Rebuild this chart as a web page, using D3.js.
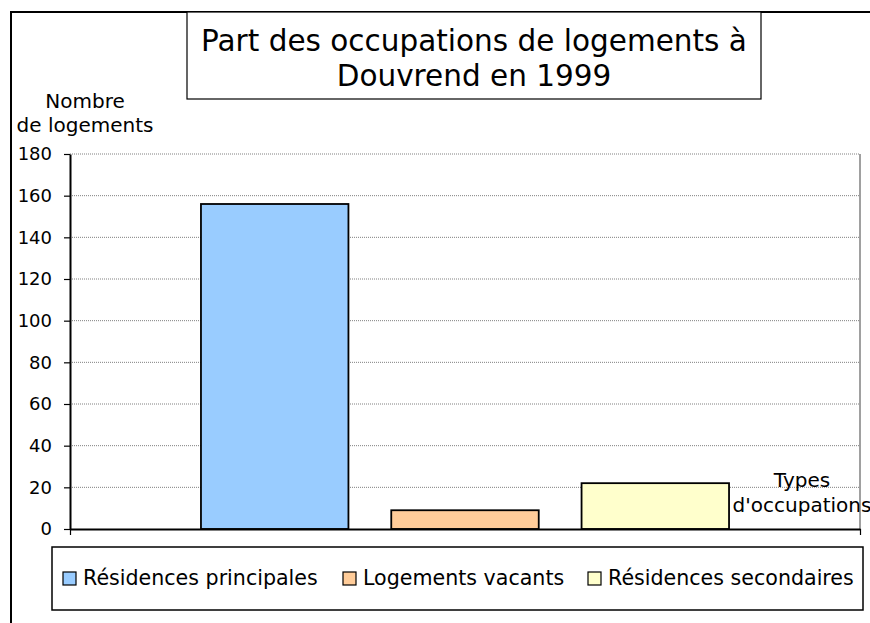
<!DOCTYPE html>
<html>
<head>
<meta charset="utf-8">
<script src="https://cdn.jsdelivr.net/npm/d3@7"></script>
<style>
    body { margin: 0; background: #fff; }
    svg { display: block; font-family: "DejaVu Sans", Verdana, sans-serif; }
</style>
</head>
<body>
<svg id="chart" width="870" height="623"></svg>
<script>
"use strict";

// Chart data
const titleLines = ["Part des occupations de logements à", "Douvrend en 1999"];
const categories = ["1999"];
const series = ["Résidences principales", "Logements vacants", "Résidences secondaires"];
const values = [156, 9, 22];
const colors = ["#99ccff", "#ffcc99", "#ffffcc"];
const yTicks = [0, 20, 40, 60, 80, 100, 120, 140, 160, 180];
const yLabel = ["Nombre", "de logements"];
const xLabel = ["Types", "d'occupations"];

(function () {
    window.addEventListener("load", init);

    function init() {
        const svg = d3.select("#chart");

        const plot = { left: 70, right: 860, top: 154, bottom: 529 };

        const x0 = d3.scaleBand()
            .domain(categories)
            .range([plot.left, plot.right])
            .paddingInner(0)
            .paddingOuter(0.248);

        const x1 = d3.scaleBand()
            .domain(series)
            .range([0, x0.bandwidth()])
            .paddingInner(0.225);

        const y = d3.scaleLinear()
            .domain([0, 180])
            .range([plot.bottom, plot.top]);

        // Outer chart border (cut off on the right and bottom)
        svg.append("rect")
            .attr("x", 11).attr("y", 12)
            .attr("width", 900).attr("height", 700)
            .attr("fill", "none")
            .attr("stroke", "#000")
            .attr("stroke-width", 2);

        drawTitle(svg);
        drawGrid(svg, y, plot);
        drawBars(svg, x0, x1, y);
        drawAxes(svg, y, plot);
        drawLabels(svg);
        drawLegend(svg);
    }

    function drawTitle(svg) {
        svg.append("rect")
            .attr("x", 187).attr("y", 12)
            .attr("width", 574).attr("height", 87)
            .attr("fill", "#fff")
            .attr("stroke", "#000")
            .attr("stroke-width", 1.2);

        svg.append("text")
            .attr("text-anchor", "middle")
            .style("font-size", "29.5px")
            .selectAll("tspan")
            .data(titleLines)
            .enter()
            .append("tspan")
            .attr("x", 474)
            .attr("y", (d, i) => 51 + i * 35)
            .text(d => d);
    }

    function drawGrid(svg, y, plot) {
        svg.append("g")
            .selectAll("line")
            .data(yTicks.filter(d => d > 0))
            .enter()
            .append("line")
            .attr("x1", plot.left)
            .attr("x2", plot.right)
            .attr("y1", d => y(d))
            .attr("y2", d => y(d))
            .attr("stroke", "#808080")
            .attr("stroke-width", 1)
            .attr("stroke-dasharray", "1,1");

        // right border of plot area
        svg.append("line")
            .attr("x1", plot.right).attr("x2", plot.right)
            .attr("y1", plot.top).attr("y2", plot.bottom)
            .attr("stroke", "#808080")
            .attr("stroke-width", 1.5);
    }

    function drawBars(svg, x0, x1, y) {
        const group = svg.append("g")
            .attr("transform", `translate(${x0(categories[0])},0)`);

        group.selectAll("rect")
            .data(series.map((s, i) => ({ name: s, value: values[i], color: colors[i] })))
            .enter()
            .append("rect")
            .attr("x", d => x1(d.name))
            .attr("y", d => y(d.value))
            .attr("width", x1.bandwidth())
            .attr("height", d => y(0) - y(d.value))
            .attr("fill", d => d.color)
            .attr("stroke", "#000")
            .attr("stroke-width", 1.8);
    }

    function drawAxes(svg, y, plot) {
        const yAxis = svg.append("g")
            .attr("transform", `translate(${plot.left},0)`)
            .call(d3.axisLeft(y).tickValues(yTicks).tickSize(6).tickPadding(12).tickSizeOuter(0));

        yAxis.selectAll("text")
            .style("font-size", "18px")
            .style("font-family", "DejaVu Sans, Verdana, sans-serif")
            .attr("fill", "#000");
        yAxis.selectAll("line").attr("stroke", "#000").attr("stroke-width", 1.2);
        yAxis.select(".domain").attr("stroke", "#000").attr("stroke-width", 2);

        // category boundary ticks
        const edge = d3.scaleLinear().domain([0, 1]).range([plot.left, plot.right]);
        const xAxis = svg.append("g")
            .attr("transform", `translate(0,${plot.bottom})`)
            .call(d3.axisBottom(edge).tickValues([0, 1]).tickFormat("").tickSize(6).tickSizeOuter(0));

        xAxis.selectAll("line").attr("stroke", "#000").attr("stroke-width", 1.2);
        xAxis.select(".domain").attr("stroke", "#000").attr("stroke-width", 2);
    }

    function drawLabels(svg) {
        svg.append("text")
            .attr("text-anchor", "middle")
            .style("font-size", "20px")
            .selectAll("tspan")
            .data(yLabel)
            .enter()
            .append("tspan")
            .attr("x", 85)
            .attr("y", (d, i) => 108 + i * 24)
            .text(d => d);

        svg.append("text")
            .attr("text-anchor", "middle")
            .style("font-size", "20px")
            .selectAll("tspan")
            .data(xLabel)
            .enter()
            .append("tspan")
            .attr("x", 802)
            .attr("y", (d, i) => 487 + i * 25)
            .text(d => d);
    }

    function drawLegend(svg) {
        svg.append("rect")
            .attr("x", 52).attr("y", 547)
            .attr("width", 811).attr("height", 63)
            .attr("fill", "#fff")
            .attr("stroke", "#000")
            .attr("stroke-width", 1.5);

        const itemX = [63, 343, 588];

        const items = svg.append("g")
            .selectAll("g")
            .data(series)
            .enter()
            .append("g")
            .attr("transform", (d, i) => `translate(${itemX[i]},572)`);

        items.append("rect")
            .attr("width", 13)
            .attr("height", 13)
            .attr("fill", (d, i) => colors[i])
            .attr("stroke", "#000")
            .attr("stroke-width", 1.2);

        items.append("text")
            .attr("x", 20)
            .attr("y", 13)
            .style("font-size", "20.6px")
            .text(d => d);
    }
})();
</script>
</body>
</html>
